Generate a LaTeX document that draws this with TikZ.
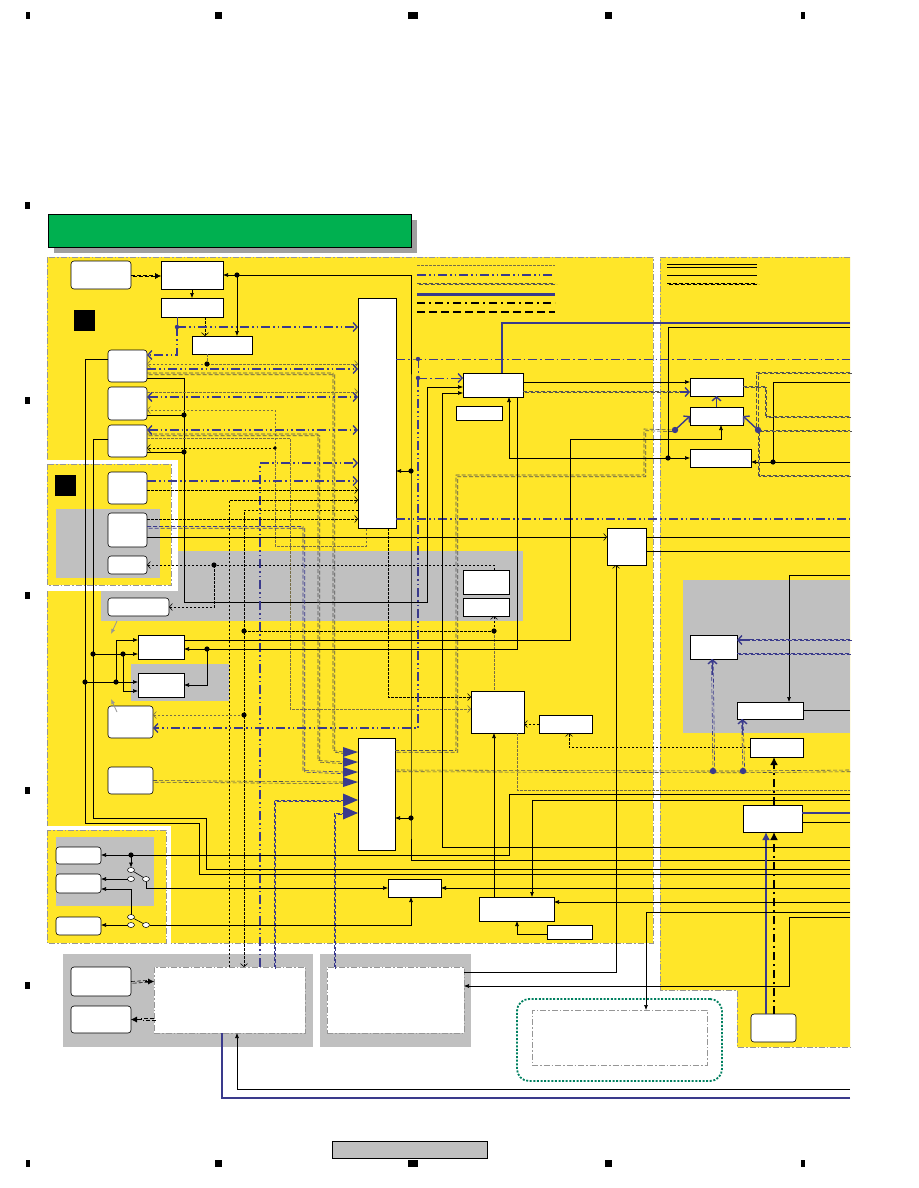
\documentclass[tikz,border=0pt]{standalone}
\usetikzlibrary{arrows.meta,shapes.geometric}
\definecolor{ylw}{RGB}{255,230,41}
\definecolor{pnl}{RGB}{192,192,192}
\definecolor{ttl}{RGB}{0,176,80}
\definecolor{bus}{RGB}{58,58,140}
\definecolor{frm}{RGB}{150,150,150}
\definecolor{olv}{RGB}{120,110,70}
\definecolor{grd}{RGB}{0,128,96}
\begin{document}
\begin{tikzpicture}[
    x=1pt, y=-1pt,
    >={Latex[length=5pt,width=4pt]},
    every node/.style = {inner sep=0pt, outer sep=0pt},
    blk/.style   = {draw, fill=white, line width=0.6pt},
    rblk/.style  = {blk, rounded corners=3pt},
    iob/.style   = {draw=frm, fill=white, line width=1pt, dash pattern=on 6pt off 2pt on 1.5pt off 2pt},
    zone/.style  = {draw=frm, line width=1pt, dash pattern=on 6pt off 2pt on 1.5pt off 2pt},
    sw/.style    = {ellipse, draw, fill=white, line width=0.5pt, minimum width=7pt, minimum height=5pt},
    wire/.style  = {line width=0.6pt},
    ctl/.style   = {line width=0.6pt, dash pattern=on 2.5pt off 1.5pt},
    aux/.style   = {draw=olv, line width=0.6pt, dash pattern=on 2.5pt off 1.5pt},
    twin/.style  = {draw=#1, line width=0.6pt, dash pattern=on 4pt off 2pt,
                    postaction={draw=#1, line width=0.6pt, dash pattern=on 4pt off 2pt,
                                transform canvas={xshift=1.7pt, yshift=-1.7pt}}},
    gdd/.style   = {twin=frm!55!black},
    bdd/.style   = {twin=bus},
    kdd/.style   = {twin=black},
    bdot/.style  = {draw=bus, line width=1.3pt, dash pattern=on 9pt off 3pt on 1.5pt off 3pt on 1.5pt off 3pt},
    bthin/.style = {draw=bus, line width=0.7pt, dash pattern=on 9pt off 3pt on 1.5pt off 3pt},
    bthk/.style  = {draw=bus, line width=2.2pt},
    kdot/.style  = {line width=2.6pt, dash pattern=on 8pt off 4pt on 2pt off 4pt},
    kdsh/.style  = {line width=2.6pt, dash pattern=on 8pt off 4pt},
    opn/.style   = {-{Straight Barb[length=3pt,width=7pt]}},
    bopn/.style  = {-{Straight Barb[length=4pt,width=9pt,line width=1.4pt]}},
    bboth/.style = {{Straight Barb[length=4pt,width=9pt,line width=1.4pt]}-{Straight Barb[length=4pt,width=9pt,line width=1.4pt]}},
    bigtip/.style= {-{Latex[length=8pt,width=8pt]}}
    ]
  \fill[white] (0,0) rectangle (918,1188);
  \useasboundingbox (0,0) rectangle (918,1188);

  %--- page marks ---
  \foreach \mx/\mw in {28/2,218/3.5,413/5,608/3.5,803/2} {
    \fill (\mx-\mw,12) rectangle (\mx+\mw,19);
    \fill (\mx-\mw,1160) rectangle (\mx+\mw,1167);
  }
  \foreach \my in {205,400,595,790,985}
    \fill (25,\my-3.5) rectangle (30,\my+3.5);

  %--- title bar ---
  \fill[gray!75] (54,220) rectangle (417,253);
  \draw[fill=ttl, line width=0.6pt] (48,214) rectangle (411,247);

  %--- zones ---
  \draw[zone, fill=ylw] (47,257) rectangle (653,943);
  \fill[pnl] (101,551) rectangle (523,621);
  \fill[white] (47,460) rectangle (178,591);
  \draw[zone, fill=ylw] (47,464) rectangle (171,585);
  \fill[pnl] (56,509) rectangle (160,578);
  \fill[pnl] (131,664) rectangle (229,701);
  \fill[white] (47,826) rectangle (171,946);
  \draw[zone, fill=ylw] (47,830) rectangle (166,943);
  \fill[pnl] (56,837) rectangle (154,906);
  \fill[ylw] (660,257) -- (850,257) -- (850,1047) -- (737,1047) -- (737,990) -- (660,990) -- cycle;
  \draw[zone] (850,257) -- (660,257) -- (660,990) -- (737,990) -- (737,1047) -- (850,1047);
  \fill[pnl] (683,580) rectangle (850,733);
  \fill[pnl] (63,954) rectangle (313,1047);
  \fill[pnl] (320,954) rectangle (471,1047);

  %--- legend ---
  \draw[aux] (417,265) -- (555,265);
  \draw[bdot] (417,275) -- (555,275);
  \draw[gdd] (417,283) -- (555,283);
  \draw[bthk, line width=3pt] (417,294) -- (555,294);
  \draw[kdot] (417,303) -- (555,303);
  \draw[kdsh] (417,312) -- (555,312);
  \draw[wire] (667,264) -- (757,264);
  \draw[wire] (667,267.5) -- (757,267.5);
  \draw[wire] (667,275) -- (757,275);
  \draw[kdd] (667,283) -- (757,283);

  %--- nodes ---
  \node[fill, minimum size=21pt] (mkA) at (84.5,320.5) {};
  \node[fill, minimum size=21pt] (mkB) at (65,485.5) {};
  \node[rblk, minimum width=60pt, minimum height=28pt] (tuner) at (101,275) {};
  \node[blk, minimum width=62pt, minimum height=28pt] (sysc) at (192,275) {};
  \node[blk, minimum width=62pt, minimum height=19pt] (eep) at (192,307.5) {};
  \node[blk, minimum width=60pt, minimum height=18pt] (rds) at (222,345) {};
  \node[rblk, minimum width=39pt, minimum height=32pt] (inA) at (127.5,366) {};
  \node[rblk, minimum width=39pt, minimum height=33pt] (inB) at (127.5,403.5) {};
  \node[rblk, minimum width=39pt, minimum height=32pt] (inC) at (127.5,441) {};
  \node[blk, minimum width=38pt, minimum height=230pt] (dsp) at (377,413) {};
  \node[rblk, minimum width=39pt, minimum height=32pt] (inD) at (127.5,488) {};
  \node[rblk, minimum width=39pt, minimum height=34pt] (inE) at (127.5,530) {};
  \node[rblk, minimum width=39pt, minimum height=18pt] (inF) at (127.5,565) {};
  \node[rblk, minimum width=61pt, minimum height=18pt] (outA) at (138.5,607) {};
  \node[blk, minimum width=46pt, minimum height=24pt] (selA) at (161,647) {};
  \node[blk, minimum width=46pt, minimum height=24pt] (selB) at (161,685) {};
  \node[rblk, minimum width=45pt, minimum height=32pt] (inG) at (130.5,722) {};
  \node[rblk, minimum width=45pt, minimum height=27pt] (inH) at (130.5,780.5) {};
  \node[blk, minimum width=37pt, minimum height=112pt] (amp) at (376.5,794) {};
  \node[rblk, minimum width=45pt, minimum height=17pt] (spA) at (78.5,855.5) {};
  \node[rblk, minimum width=45pt, minimum height=19pt] (spB) at (78.5,883.5) {};
  \node[rblk, minimum width=45pt, minimum height=18pt] (spC) at (78.5,926) {};
  \node[blk, minimum width=53pt, minimum height=18pt] (vol) at (414.5,888) {};
  \node[blk, minimum width=60pt, minimum height=24pt] (cpu) at (493,385) {};
  \node[blk, minimum width=46pt, minimum height=14pt] (xtal) at (479,413) {};
  \node[blk, minimum width=46pt, minimum height=24pt] (flA) at (486,582) {};
  \node[blk, minimum width=46pt, minimum height=18pt] (flB) at (486,607) {};
  \node[blk, minimum width=53pt, minimum height=42pt] (hdmi) at (497.5,712) {};
  \node[blk, minimum width=53pt, minimum height=18pt] (hsub) at (565.5,724) {};
  \node[blk, minimum width=75pt, minimum height=24pt] (pwr) at (516.5,909) {};
  \node[blk, minimum width=45pt, minimum height=14pt] (reg) at (569.5,932) {};
  \node[blk, minimum width=39pt, minimum height=37pt] (fan) at (626.5,546.5) {};
  \node[blk, minimum width=53pt, minimum height=18pt] (usbA) at (716.5,387) {};
  \node[blk, minimum width=53pt, minimum height=18pt] (usbB) at (716.5,416) {};
  \node[blk, minimum width=61pt, minimum height=18pt] (usbC) at (720.5,458) {};
  \node[blk, minimum width=47pt, minimum height=24pt] (netA) at (713.5,647) {};
  \node[blk, minimum width=66pt, minimum height=17pt] (netB) at (770,710.5) {};
  \node[blk, minimum width=53pt, minimum height=19pt] (netC) at (776.5,747.5) {};
  \node[blk, minimum width=59pt, minimum height=27pt] (netD) at (772.5,818.5) {};
  \node[rblk, minimum width=45pt, minimum height=28pt] (ant) at (773.5,1028) {};
  \node[rblk, minimum width=60pt, minimum height=29pt] (jkA) at (101,981.5) {};
  \node[rblk, minimum width=60pt, minimum height=27pt] (jkB) at (101,1019.5) {};
  \node[iob, minimum width=151pt, minimum height=66pt] (ioA) at (229.5,1000) {};
  \node[iob, minimum width=137pt, minimum height=66pt] (ioB) at (395.5,1000) {};
  \node[draw=grd, fill=white, line width=1.8pt, dash pattern=on 2pt off 1.6pt,
        rounded corners=12pt, minimum width=205pt, minimum height=82pt] (optA) at (619.5,1040) {};
  \node[iob, minimum width=175pt, minimum height=55pt] (optB) at (619.5,1037.5) {};
  \node[draw, fill=pnl, line width=0.6pt, minimum width=155pt, minimum height=17pt] (pglab) at (409.5,1149.5) {};
  \node[sw] (swA) at (131,870) {};
  \node[sw] (swB) at (131,879) {};
  \node[sw] (swC) at (146,879) {};
  \node[sw] (swD) at (131,917) {};
  \node[sw] (swE) at (131,925) {};
  \node[sw] (swF) at (146,925) {};
  \foreach \ty/\th [count=\i] in {752/5,762/5,772/5,782/5,800/6.5,813/6.5} {
    \coordinate (t\i) at (343,\ty);
    \fill[bus] (343,\ty-\th) -- (358,\ty) -- (343,\ty+\th) -- cycle;
  }

  %--- junctions ---
  \coordinate (rim) at (850,0);
  \coordinate (jS) at (237,275);
  \coordinate (jD) at (411,471);
  \coordinate (jA) at (411,818);
  \coordinate (jR) at (207,364);
  \coordinate (jP) at (184,415);
  \coordinate (jQ) at (184,452);
  \coordinate (jT) at (275,448);
  \coordinate (jF) at (214,565);
  \coordinate (jU) at (244,631);
  \coordinate (jV) at (244,715);
  \coordinate (jW) at (494,631);
  \coordinate (jM) at (668,458);
  \coordinate (jN) at (773,462);
  \coordinate (jE) at (207,649);
  \coordinate (jG) at (93,654);
  \coordinate (jH) at (85,682);
  \coordinate (jI) at (123,654);
  \coordinate (jJ) at (116,682);
  \coordinate (jSw) at (131,855);
  \coordinate (jB) at (177,327);
  \coordinate (jK) at (418,359);
  \coordinate (jL) at (418,378);
  \coordinate (jX) at (675,430);
  \coordinate (jO) at (758,430);
  \coordinate (jY) at (713,771);
  \coordinate (jZ) at (743,771);

  %--- system control ---
  \draw[kdd] (tuner.east) -- (157,275);
  \draw[-{Latex[length=6pt,width=6pt]}] (155,276) -- (sysc.west |- 0,276);
  \draw[wire,->] (sysc.south) -- (eep.north);
  \draw[wire] (rim |- 0,860) -| (jA) -- (jD) |- (jS);
  \draw[wire,->] (jS) -- (sysc.east);
  \draw[wire,->] (jS) -- (rds.north -| jS);
  \draw[wire,->] (jD) -- (dsp.east |- jD);
  \draw[wire,->] (jA) -- (amp.east |- jA);
  \draw[ctl,opn] (eep.south -| 205,0) -- (rds.north -| 205,0);
  \draw[bthin] (eep.south -| jB) -- (jB);
  \draw[bdot,bopn] (jB) -- (dsp.west |- jB);
  \draw[bdot,bopn] (jB) |- (inA.east |- 0,355);

  %--- inputs to dsp ---
  \draw[aux] (rds.south -| jR) -- (jR);
  \draw[aux,opn] (jR) -- (inA.east |- jR);
  \draw[aux,opn] (jR) -- (dsp.west |- jR);
  \draw[bdot,bopn] (inA.east |- 0,369) -- (dsp.west |- 0,369);
  \draw[gdd] (inA.east |- 0,373) -| (333,750.5) -- (t1);
  \draw[wire] (inA.east |- 0,378) -| (jP);
  \draw[wire] (inB.east |- jP) -- (jP) -- (jQ);
  \draw[wire] (inC.east |- jQ) -- (jQ);
  \draw[wire,->] (jQ) |- (427,602) |- (cpu.west |- 0,387);
  \draw[aux,opn] (inB.east |- 0,392) -- (dsp.west |- 0,392);
  \draw[bdot,bboth] (inB.east |- 0,397) -- (dsp.west |- 0,397);
  \draw[aux,opn] (jT) |- (inB.east |- 0,410);
  \draw[ctl,opn] (jT) -- (inC.east |- jT);
  \draw[aux] (jT) |- (366,546) -- (dsp.south -| 366,0);
  \draw[bdot,bboth] (inC.east |- 0,430) -- (dsp.west |- 0,430);
  \draw[gdd] (inC.east |- 0,434) -| (318,760.5) -- (t2);
  \draw[aux,opn] (inC.east |- 0,438) -| (290,709) -- (hdmi.west |- 0,709);
  \draw[ctl,opn] (dsp.south -| 388,0) |- (hdmi.west |- 0,697);
  \draw[bdot,bopn] (inD.east |- 0,481) -- (dsp.west |- 0,481);
  \draw[bdot,bopn,line width=1.7pt] (ioA.north -| 260,0) |- (dsp.west |- 0,463);
  \draw[ctl,opn] (inD.east |- 0,490) -- (dsp.west |- 0,490);
  \draw[ctl,opn] (ioA.north -| 229,0) |- (dsp.west |- 0,500);
  \draw[ctl,opn] (dsp.west |- 0,510) -| (ioA.north -| 244,0);
  \draw[ctl,opn] (inE.east |- 0,519) -- (dsp.west |- 0,519);
  \draw[bdd] (inE.east |- 0,526.5) -| (303,770.5) -- (t3);
  \draw[wire,opn] (inE.east |- 0,537) -- (fan.west |- 0,537);
  \draw[ctl,opn] (jF) -- (inF.east |- jF);
  \draw[ctl,opn] (jF) |- (outA.east);
  \draw[ctl] (flA.north -| 494,0) |- (jF);
  \draw[ctl] (jU) -- (jW);
  \draw[ctl,opn] (jW) -- (flB.south -| jW);
  \draw[aux] (jW) -- (hdmi.north -| jW);
  \draw[aux,opn] (jV) -- (inG.east |- jV);
  \draw[bthin] (dsp.east |- jK) -- (jK) -- (rim |- jK);
  \draw[bthin] (jK) -- (jL);
  \draw[bthin,bopn] (jL) -- (cpu.west |- jL);
  \draw[bdot,bopn] (jL) |- (inG.east |- 0,728);
  \draw[gdd] (inH.east |- 0,780.5) -- (t4);
  \draw[bdd] (ioA.north -| 274,0) |- (t5);
  \draw[bdd] (ioB.north -| 334,0) |- (t6);
  \draw[bdot] (dsp.east |- 0,519) -- (rim |- 0,519);

  %--- amplifier and network ---
  \draw[gdd] (amp.east |- 0,750.5) -| (456,475) -| (644,429) -- (jX);
  \draw[bus,line width=1.4pt,bopn] (jX) -- (usbB.west);
  \draw[gdd] (amp.east |- 0,770) -- (jY) -- (jZ) -- (rim |- 0,770);
  \draw[bdd] (jY) -- (netA.south -| 711.5,0);
  \draw[bus,line width=1.4pt,bopn] (712.5,675) -- (netA.south -| 712.5,0);
  \draw[bdd] (jZ) -- (netB.south -| 741.5,0);
  \draw[bus,line width=1.4pt,bopn] (742.5,735) -- (netB.south -| 742.5,0);
  \draw[ctl,opn] (hsub.west) -- (hdmi.east |- hsub.west);
  \draw[ctl,opn] (netC.west) -| (hsub.south -| 569,0);
  \draw[aux] (hdmi.south -| 517,0) |- (rim |- 0,790);
  \draw[kdot,bigtip] (netD.north -| 774,0) -- (netC.south -| 774,0);
  \draw[kdot,bigtip] (ant.north -| 774,0) -- (netD.south -| 774,0);
  \draw[bthk,bigtip] (ant.north -| 766,0) -- (netD.south -| 766,0);
  \draw[bthk] (netD.east |- 0,813) -- (rim |- 0,813);
  \draw[wire] (netD.east |- 0,822) -- (rim |- 0,822);
  \draw[wire,->] (rim |- 0,575) -| (netB.north -| 789,0);
  \draw[wire] (netB.east) -- (rim |- netB.east);
  \draw[bdd] (rim |- 0,639) -- (745,639);
  \draw[bus,line width=1.4pt,bopn] (750,640) -- (netA.east |- 0,640);
  \draw[bdd] (netA.east |- 0,653) -- (rim |- 0,653);
  \draw[wire] (fan.east |- 0,537) -- (rim |- 0,537);
  \draw[wire] (fan.east |- 0,551) -- (rim |- 0,551);
  \draw[wire,opn] (ioB.east |- 0,972) -| (fan.south -| 616,0);
  \draw[wire,->] (rim |- 0,917) -| (789,986) -- (ioB.east |- 0,986);
  \draw[wire,->] (rim |- 0,912) -| (optB.north -| 646,0);
  \draw[wire,->] (rim |- 0,902) -- (pwr.east |- 0,902);
  \draw[wire,->] (rim |- 0,800) -| (pwr.north -| 532,0);
  \draw[wire,->] (pwr.north -| 494,0) -- (hdmi.south -| 494,0);
  \draw[wire,->] (reg.west |- 0,934) -| (pwr.south -| 517,0);

  %--- cpu and usb ---
  \draw[bthk] (cpu.north -| 502,0) |- (rim |- 0,323);
  \draw[wire] (rim |- 0,327) -| (jM);
  \draw[wire,->] (jM) -- (usbC.west |- jM);
  \draw[wire,->] (jM) -| (cpu.south -| 509,0);
  \draw[wire,->] (jN) -- (usbC.east |- jN);
  \draw[wire] (rim |- jN) -- (jN) |- (rim |- 0,382);
  \draw[wire,->] (cpu.east |- 0,382) -- (usbA.west |- 0,382);
  \draw[gdd] (cpu.east |- 0,391) -- (680,391);
  \draw[bus,line width=1.4pt,bopn] (680,392) -- (usbA.west |- 0,392);
  \draw[bus,line width=1.4pt,bopn] (usbB.north) -- (usbA.south);
  \draw[wire,->] (selA.east |- 0,640) -| (570,439) -| (usbB.south -| 721,0);
  \draw[wire] (cpu.south -| 517,0) |- (jE);
  \draw[wire,->] (jE) -- (selA.east |- jE);
  \draw[wire,->] (jE) |- (selB.east);
  \draw[bus,line width=1.4pt,bopn] (jO) -- (usbB.east);
  \draw[gdd] (jO) -- (rim |- jO);
  \draw[gdd] (jO) |- (rim |- 0,475);
  \draw[gdd] (rim |- 0,372) -| (756.5,430);
  \draw[gdd] (usbA.east |- 0,386) -| (765,416) -- (rim |- 0,416);
  \draw[wire,->] (rim |- 0,847) -| (442,393) -- (cpu.west |- 0,393);

  %--- selectors and switches ---
  \draw[wire] (inA.west |- 0,359) -| (85,823) -| (199,874) -- (rim |- 0,874);
  \draw[wire] (inC.west |- 0,439) -| (93,818) -| (206,869) -- (rim |- 0,869);
  \draw[wire] (jG) -- (jI);
  \draw[wire,->] (jI) -- (selA.west |- jI);
  \draw[wire,->] (jI) |- (selB.west |- 0,691);
  \draw[wire] (jH) -- (jJ);
  \draw[wire,->] (jJ) -- (selB.west |- jJ);
  \draw[wire,->] (jJ) |- (selA.west |- 0,640);
  \draw[frm,line width=0.8pt,->] (117,621) -- (111,634);
  \draw[frm,line width=0.8pt,->] (117,712) -- (111,699);
  \draw[wire] (rim |- 0,794) -| (509,855) -- (jSw);
  \draw[wire,->] (jSw) -- (spA.east |- jSw);
  \draw[wire,->] (jSw) -- (swA.north);
  \draw[wire] (swA) -- (swC);
  \draw[wire,->] (swB) -- (spB.east |- swB);
  \draw[wire,->] (swC) |- (vol.west);
  \draw[wire] (swD) -- (swF);
  \draw[wire,->] (swE) -- (spC.east |- swE);
  \draw[wire,->] (swD) |- (spB.east |- 0,889);
  \draw[wire,->] (swF) -| (vol.south -| 411,0);
  \draw[wire,->] (rim |- vol.east) -- (vol.east);

  %--- external io ---
  \draw[kdd] (jkA.east) -- (147,980.5);
  \draw[-{Latex[length=6pt,width=6pt]}] (145,981.5) -- (ioA.west |- 0,981.5);
  \draw[kdd] (ioA.west |- 0,1018.5) -- (141,1018.5);
  \draw[-{Latex[length=6pt,width=6pt]}] (142,1019.5) -- (jkB.east);
  \draw[wire,->] (rim |- 0,1089) -| (ioA.south -| 237,0);
  \draw[bthk] (rim |- 0,1098) -| (ioA.south -| 222,0);

  %--- dots ---
  \foreach \j in {jS,jD,jA,jR,jP,jQ,jF,jU,jV,jW,jM,jN,jE,jG,jH,jI,jJ,jSw}
    \fill (\j) circle (2.6pt);
  \fill (jT) circle (1.8pt);
  \foreach \j in {jB,jK,jL}
    \fill[bus] (\j) circle (2.2pt);
  \foreach \j in {jX,jO,jY,jZ}
    \fill[bus] (\j) circle (3.2pt);
\end{tikzpicture}
\end{document}
